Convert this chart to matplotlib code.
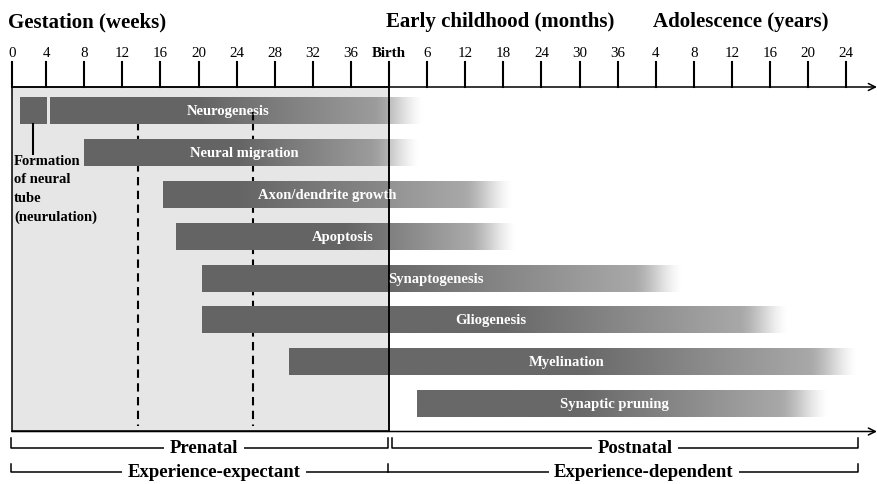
import numpy as np
import matplotlib
matplotlib.use('Agg')
from matplotlib import pyplot as plt
from matplotlib.patches import Rectangle

plt.rcParams['font.family'] = ['Liberation Serif', 'DejaVu Serif']

# x axis is measured in tick steps (0 = week 0, 10 = birth, 22 = 24 years)
tick_labels = ['0', '4', '8', '12', '16', '20', '24', '28', '32', '36', 'Birth',
               '6', '12', '18', '24', '30', '36',
               '4', '8', '12', '16', '20', '24']
birth = 10

bar_names = ['Neurogenesis', 'Neural migration', 'Axon/dendrite growth', 'Apoptosis',
             'Synaptogenesis', 'Gliogenesis', 'Myelination', 'Synaptic pruning']
bar_start = [1.10, 1.99, 4.08, 4.40, 5.10, 5.09, 7.38, 10.73]
bar_fade = [5.0, 6.0, 6.0, 8.8, 10.0, 13.0, 15.0, 15.0]   # where the fade begins
bar_end = [10.87, 10.76, 13.23, 13.31, 17.69, 20.47, 22.28, 21.50]
label_x = [5.77, 6.21, 8.37, 8.78, 11.23, 12.68, 14.67, 15.92]

tube_start, tube_end = 0.31, 1.02
trimesters = [3.40, 6.43]


# pixel helpers for the layout only
def X(px):
    return (px - 8) / 38.1


def Y(py):
    return (py - 111.5) / 41.9


fig = plt.figure(figsize=(8.78, 4.85), dpi=100)
ax = fig.add_axes([0, 0, 1, 1])
ax.set_xlim(X(0), X(878))
ax.set_ylim(Y(485), Y(0))
ax.axis('off')

tick_x = np.arange(len(tick_labels), dtype=float)
tick_x[0] = X(11.7)
axis_y = Y(88)
base_y = Y(432.5)
right_end = X(877)

# prenatal box
ax.add_patch(Rectangle((tick_x[0], axis_y), birth - tick_x[0], base_y - axis_y,
                       facecolor='#e6e6e6', edgecolor='none', zorder=0))
ax.add_patch(Rectangle((tick_x[0], axis_y), birth - tick_x[0], base_y - axis_y,
                       facecolor='none', edgecolor='black', lw=1.1, zorder=5))

# dashed trimester lines
for xd in trimesters:
    ax.plot([xd, xd], [Y(123), Y(427)], color='black', lw=1.5,
            linestyle=(0, (4, 2.6)), zorder=1)
ax.plot([trimesters[1], trimesters[1]], [Y(113), Y(123)], color='black', lw=1.5,
        linestyle=(0, (4, 2.6)), zorder=3)

# top and bottom axes with arrows
for yy in [axis_y, base_y]:
    ax.annotate('', xy=(right_end, yy), xytext=(tick_x[0], yy),
                arrowprops=dict(arrowstyle='->,head_length=0.5,head_width=0.25',
                                color='black', lw=1.1, shrinkA=0, shrinkB=0), zorder=5)

for xt, lab in zip(tick_x, tick_labels):
    ax.plot([xt, xt], [Y(63), axis_y], color='black', lw=1.5, zorder=5)
    ax.text(xt, Y(57), lab, ha='center', va='baseline', fontsize=10.8,
            fontweight='bold' if lab == 'Birth' else 'normal')

ax.text(X(8), Y(27), 'Gestation (weeks)', fontsize=15, fontweight='bold', ha='left', va='baseline')
ax.text(X(386), Y(27), 'Early childhood (months)', fontsize=15, fontweight='bold', ha='left', va='baseline')
ax.text(X(653), Y(27), 'Adolescence (years)', fontsize=15, fontweight='bold', ha='left', va='baseline')

# gradient bars
h = 27 / 41.9
dark, mid, fade_len = 104, 168, 1.25


def shade(v, xs):
    # darker inside the grey prenatal box
    return np.where(xs < birth, 230 - (255 - v) * 0.86, v)


for i, name in enumerate(bar_names):
    xs = np.linspace(bar_start[i], bar_end[i], 500)
    knee = bar_end[i] - fade_len
    v = np.full_like(xs, dark)
    m1 = (xs >= bar_fade[i]) & (xs < knee)
    v[m1] = dark + (mid - dark) * (xs[m1] - bar_fade[i]) / (knee - bar_fade[i])
    m2 = xs >= knee
    t = (xs[m2] - knee) / fade_len
    v[m2] = mid + (255 - mid) * (t * t * (3 - 2 * t) * 0.6 + t * 0.4)
    v = shade(v, xs) / 255
    img = np.dstack([v, v, v])
    ax.imshow(img, extent=(bar_start[i], bar_end[i], i + h / 2, i - h / 2),
              aspect='auto', interpolation='bilinear', zorder=2)
    ax.text(label_x[i], i, name, color='white', fontsize=10.5, fontweight='bold',
            ha='center', va='center', zorder=6)

# neural tube block
ax.add_patch(Rectangle((tube_start, -h / 2), tube_end - tube_start, h,
                       facecolor='#646464', edgecolor='none', zorder=2))
tube_mid = (tube_start + tube_end) / 2
ax.plot([tube_mid, tube_mid], [h / 2, Y(155)], color='black', lw=1.5, zorder=3)
ax.text(X(14), Y(155), 'Formation\nof neural\ntube\n(neurulation)', fontsize=10.5,
        fontweight='bold', ha='left', va='top', linespacing=1.55, zorder=6)

# birth line over the bars
ax.plot([birth, birth], [axis_y, base_y], color='black', lw=1.1, zorder=5)

# brackets
lx, rx, mx = X(11), X(858), birth
b1_top, b1 = Y(439), Y(449)
b2_top, b2 = Y(465), Y(473)
ax.plot([lx, lx, mx - 0.03, mx - 0.03], [b1_top, b1, b1, b1_top], color='black', lw=1.1)
ax.plot([mx + 0.07, mx + 0.07, rx, rx], [b1_top, b1, b1, b1_top], color='black', lw=1.1)
ax.plot([lx, lx, rx, rx], [b2_top, b2, b2, b2_top], color='black', lw=1.1)
ax.plot([mx - 0.03, mx - 0.03], [b2_top, b2], color='black', lw=1.1)

box = dict(boxstyle='square,pad=0.3', facecolor='white', edgecolor='none')
ax.text(X(204), b1, 'Prenatal', fontsize=13.5, fontweight='bold', ha='center', va='center', bbox=box)
ax.text(X(635), b1, 'Postnatal', fontsize=13.5, fontweight='bold', ha='center', va='center', bbox=box)
ax.text(X(214), b2, 'Experience-expectant', fontsize=13.5, fontweight='bold', ha='center', va='center', bbox=box)
ax.text(X(644), b2, 'Experience-dependent', fontsize=13.5, fontweight='bold', ha='center', va='center', bbox=box)

fig.savefig('out.png', dpi=100)
